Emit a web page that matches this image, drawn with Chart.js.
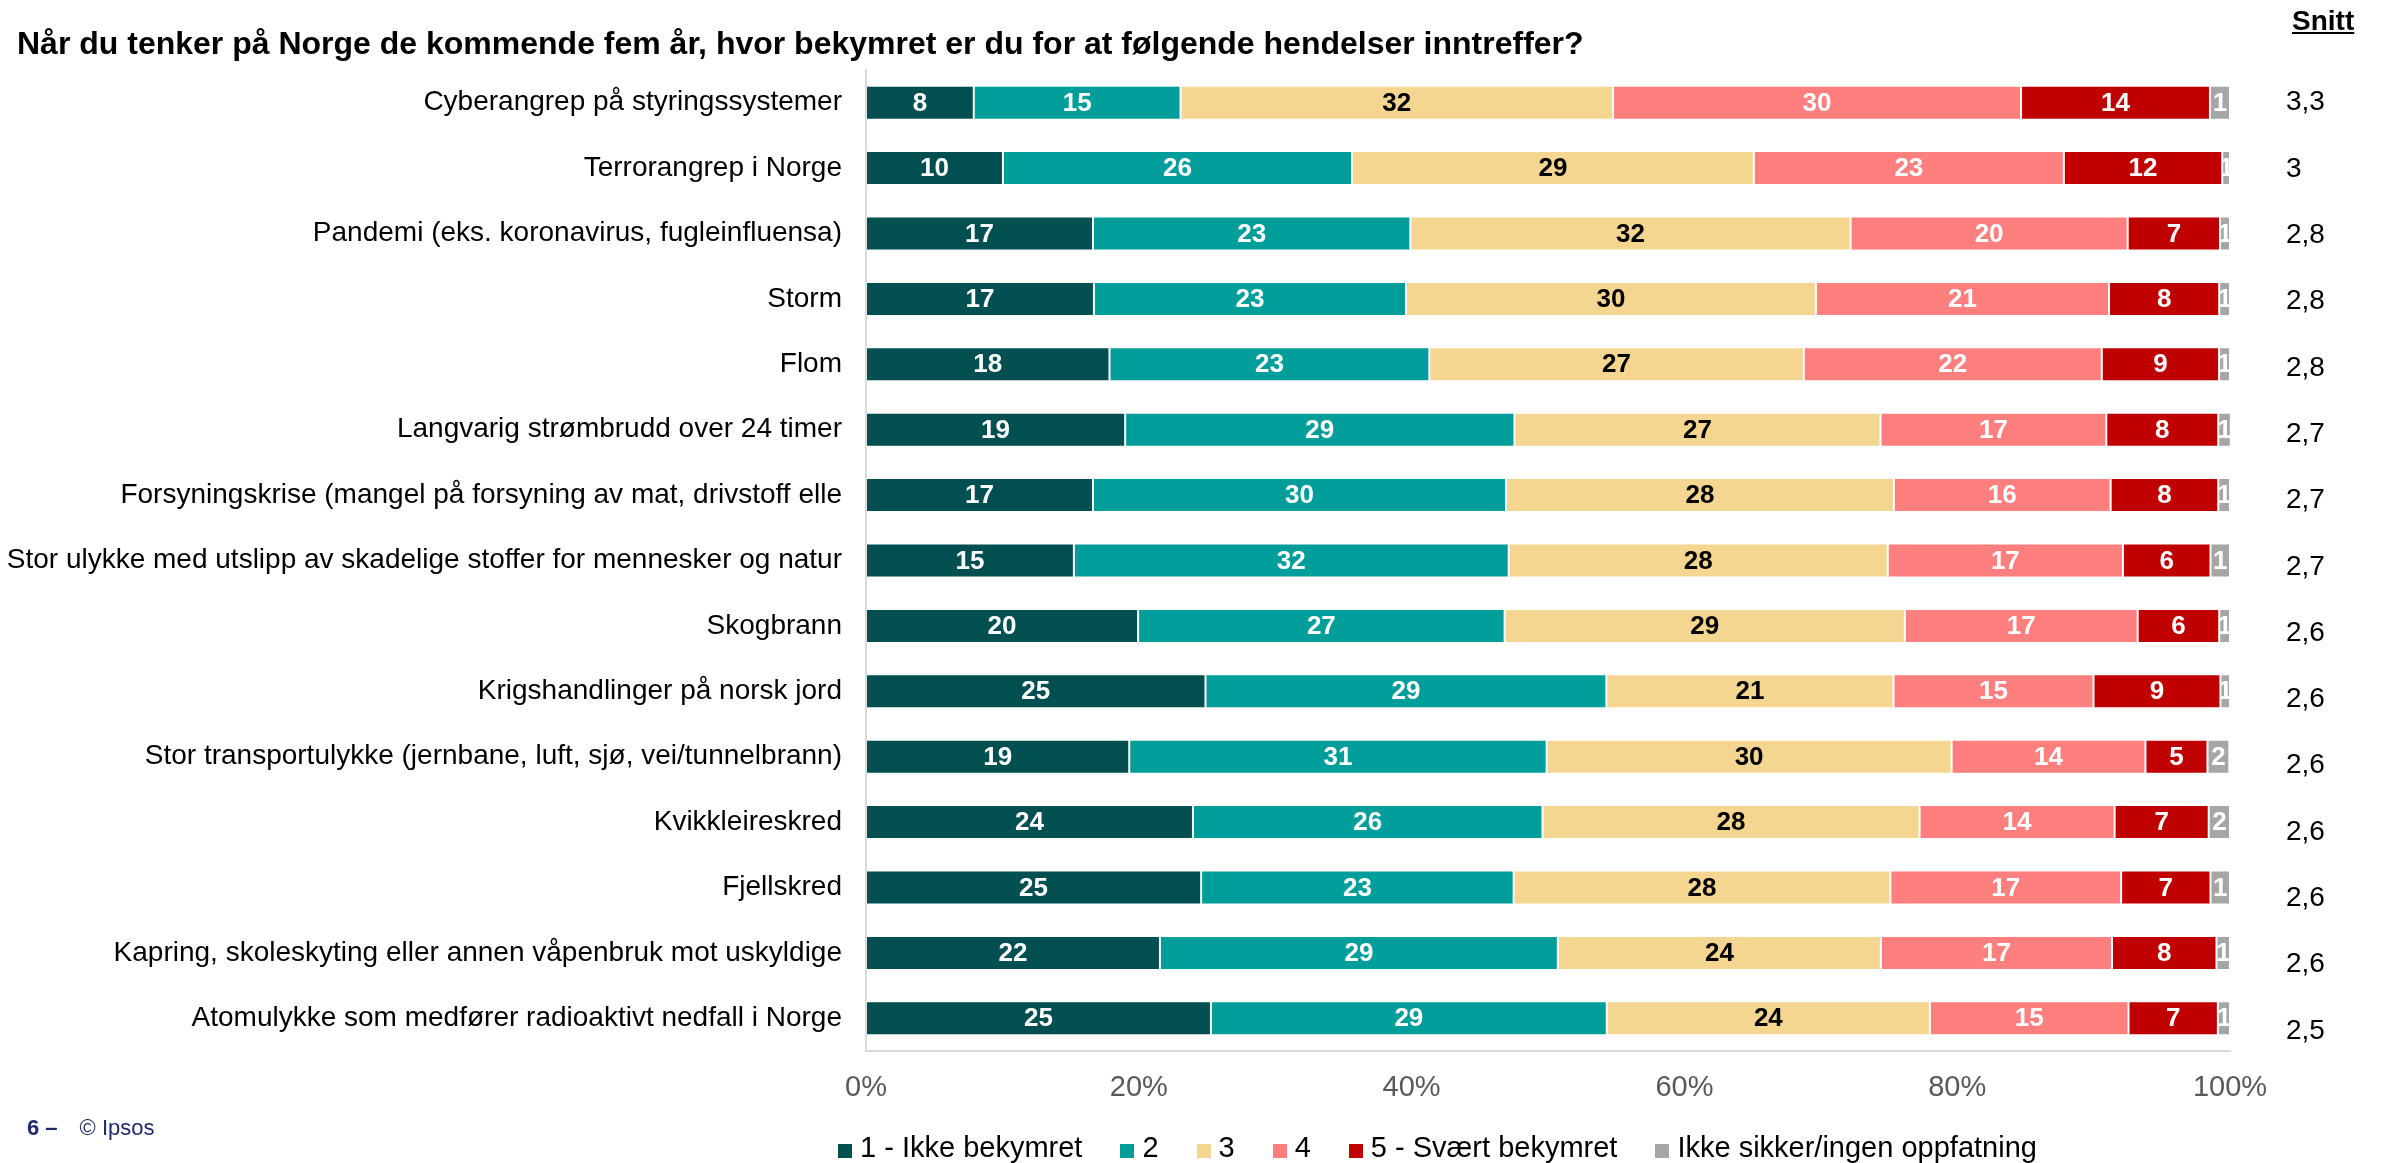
<!DOCTYPE html>
<html>
<head>
<meta charset="utf-8">
<script src="https://cdn.jsdelivr.net/npm/chart.js@4.4.1/dist/chart.umd.min.js"></script>
<style>
  body { margin: 0; background: #fff; font-family: Arial, "Liberation Sans", sans-serif; }
  #wrap { position: relative; width: 2384px; height: 1163px; }
  #title { position: absolute; left: 17px; top: 24px; font-size: 32px; line-height: 38px; font-weight: bold; color: #000; white-space: nowrap; }
  #snitt { position: absolute; left: 2292px; top: 5px; font-size: 28px; line-height: 32px; font-weight: bold; text-decoration: underline; color: #000; }
  #foot { position: absolute; left: 27px; top: 1114px; font-size: 22px; line-height: 28px; color: #1f2a6b; white-space: nowrap; }
  #foot b { font-weight: bold; margin-right: 22px; }
  #legend { position: absolute; left: 838px; top: 1130px; display: flex; font-size: 29px; line-height: 34px; color: #000; white-space: nowrap; }
  #legend .it { display: flex; align-items: center; margin-right: 38px; }
  #legend .sw { width: 14px; height: 14px; margin-right: 8px; margin-top: 7px; }
</style>
</head>
<body>
<div id="wrap">
  <canvas id="c"></canvas>
  <div id="title">Når du tenker på Norge de kommende fem år, hvor bekymret er du for at følgende hendelser inntreffer?</div>
  <div id="snitt">Snitt</div>
  <div id="foot"><b>6 –</b>© Ipsos</div>
  <div id="legend"></div>
</div>
<script>
// Bekymring for hendelser i Norge, andel i prosent per svaralternativ.
const categories = [
  'Cyberangrep på styringssystemer',
  'Terrorangrep i Norge',
  'Pandemi (eks. koronavirus, fugleinfluensa)',
  'Storm',
  'Flom',
  'Langvarig strømbrudd over 24 timer',
  'Forsyningskrise (mangel på forsyning av mat, drivstoff elle',
  'Stor ulykke med utslipp av skadelige stoffer for mennesker og natur',
  'Skogbrann',
  'Krigshandlinger på norsk jord',
  'Stor transportulykke (jernbane, luft, sjø, vei/tunnelbrann)',
  'Kvikkleireskred',
  'Fjellskred',
  'Kapring, skoleskyting eller annen våpenbruk mot uskyldige',
  'Atomulykke som medfører radioaktivt nedfall i Norge'
];
const seriesNames = ['1 - Ikke bekymret', '2', '3', '4', '5 - Svært bekymret', 'Ikke sikker/ingen oppfatning'];
const colors = ['#014f50', '#009e9b', '#f5d690', '#ff7e7e', '#c00000', '#a6a6a6'];
const labelColors = ['#fff', '#fff', '#000', '#fff', '#fff', '#fff'];

const s1 = [7.9, 10.04, 16.64, 16.71, 17.85, 19.0, 16.64, 15.24, 19.95, 24.89, 19.3, 23.97, 24.57, 21.55, 25.29];
const s2 = [15.16, 25.59, 23.27, 22.88, 23.45, 28.54, 30.28, 31.88, 26.87, 29.39, 30.6, 25.63, 22.91, 29.17, 29.02];
const s3 = [31.7, 29.46, 32.27, 30.05, 27.45, 26.84, 28.44, 27.79, 29.34, 21.05, 29.69, 27.64, 27.62, 23.69, 23.69];
const s4 = [29.92, 22.73, 20.32, 21.49, 21.85, 16.55, 15.89, 17.24, 17.07, 14.66, 14.21, 14.3, 16.92, 16.94, 14.56];
const s5 = [13.85, 11.61, 6.77, 8.08, 8.6, 8.21, 7.89, 6.42, 5.98, 9.31, 4.55, 6.9, 6.55, 7.66, 6.55];
const s6 = [1.47, 0.57, 0.73, 0.79, 0.8, 0.92, 0.86, 1.43, 0.79, 0.7, 1.6, 1.56, 1.43, 0.99, 0.89];
const snitt = [3.3, 3, 2.8, 2.8, 2.8, 2.7, 2.7, 2.7, 2.6, 2.6, 2.6, 2.6, 2.6, 2.6, 2.5];
const xTicks = [0, 20, 40, 60, 80, 100];

const FONT = 'Arial, "Liberation Sans", sans-serif';
Chart.defaults.font.family = FONT;

const series = [s1, s2, s3, s4, s5, s6];
const datasets = series.map((d, i) => ({
  label: seriesNames[i], data: d, backgroundColor: colors[i],
  borderColor: 'rgba(255,255,255,0.2)', borderWidth: 1, borderSkipped: false,
  barPercentage: 0.52, categoryPercentage: 1
}));

// tall inni hvert segment
const segLabels = {
  id: 'segLabels',
  afterDatasetsDraw(chart) {
    const ctx = chart.ctx;
    ctx.save();
    ctx.font = 'bold 26px ' + FONT;
    ctx.textAlign = 'center'; ctx.textBaseline = 'middle';
    chart.data.datasets.forEach((ds, di) => {
      chart.getDatasetMeta(di).data.forEach((el, i) => {
        const v = ds.data[i]; if (!v) return;
        const l = Math.min(el.x, el.base), r = Math.max(el.x, el.base);
        ctx.save();
        ctx.beginPath(); ctx.rect(l, el.y - el.height / 2, r - l, el.height); ctx.clip();
        ctx.fillStyle = labelColors[di];
        ctx.fillText(String(Math.round(v)), (l + r) / 2, el.y + 1);
        ctx.restore();
      });
    });
    ctx.restore();
  }
};

// snittkolonne til høyre
const snittCol = {
  id: 'snittCol',
  afterDraw(chart) {
    const ctx = chart.ctx, y = chart.scales.y;
    ctx.save();
    ctx.font = '28px ' + FONT; ctx.fillStyle = '#000';
    ctx.textAlign = 'left'; ctx.textBaseline = 'middle';
    snitt.forEach((v, i) => ctx.fillText(String(v).replace('.', ','), 2286, y.getPixelForValue(i) + i * 0.9));
    ctx.restore();
  }
};

new Chart(document.getElementById('c'), {
  type: 'bar',
  data: { labels: categories, datasets },
  options: {
    indexAxis: 'y', responsive: true, maintainAspectRatio: false, animation: false,
    layout: { padding: { top: 70, right: 154, bottom: 61, left: 0 } },
    plugins: { legend: { display: false }, tooltip: { enabled: false } },
    scales: {
      x: {
        stacked: true, min: 0, max: 100,
        afterBuildTicks: (s) => { s.ticks = xTicks.map((v) => ({ value: v })); },
        afterFit: (s) => { s.height = 51; },
        grid: { display: false, drawTicks: false },
        border: { display: true, color: '#d9d9d9', width: 2 },
        ticks: { color: '#595959', font: { size: 29 }, padding: 20, callback: (v) => v + '%' }
      },
      y: {
        stacked: true,
        afterFit: (s) => { s.width = 866; },
        grid: { display: false, drawTicks: false },
        border: { display: true, color: '#d9d9d9', width: 2 },
        ticks: { color: '#000', font: { size: 28 }, padding: 24, autoSkip: false }
      }
    }
  },
  plugins: [segLabels, snittCol]
});

document.getElementById('legend').innerHTML = seriesNames.map((n, i) =>
  `<div class="it"><span class="sw" style="background:${colors[i]}"></span>${n}</div>`).join('');
</script>
</body>
</html>
